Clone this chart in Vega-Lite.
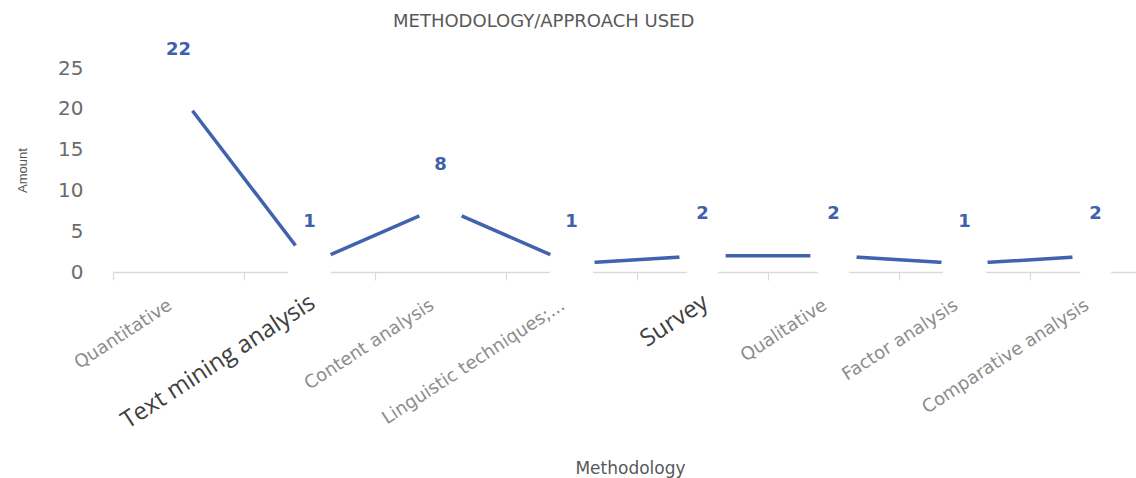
{
  "$schema": "https://vega.github.io/schema/vega-lite/v6.json",
  "autosize": "none",
  "width": 1023,
  "height": 204,
  "padding": {"left": 113, "top": 68, "right": 0, "bottom": 206},
  "background": "white",
  "title": {
    "text": "METHODOLOGY/APPROACH USED",
    "anchor": "start",
    "frame": "group",
    "dx": 280,
    "dy": 18,
    "offset": 10,
    "baseline": "bottom",
    "font": "DejaVu Sans",
    "fontSize": 18,
    "fontWeight": "normal",
    "color": "#595959"
  },
  "data": {
    "values": [
      {"method": "Quantitative", "amount": 22},
      {"method": "Text mining analysis", "amount": 1},
      {"method": "Content analysis", "amount": 8},
      {"method": "Linguistic techniques;...", "amount": 1},
      {"method": "Survey", "amount": 2},
      {"method": "Qualitative", "amount": 2},
      {"method": "Factor analysis", "amount": 1},
      {"method": "Comparative analysis", "amount": 2}
    ]
  },
  "encoding": {
    "x": {
      "field": "method",
      "type": "nominal",
      "sort": null,
      "scale": {"type": "band", "range": [0, 1048], "paddingInner": 0, "paddingOuter": 0},
      "axis": {
        "title": "Methodology",
        "bandPosition": 0,
        "labelAngle": -33,
        "labelLimit": 400,
        "labelPadding": {"condition": {"test": "datum.value == 'Text mining analysis' || datum.value == 'Survey'", "value": 10}, "value": 16},
        "labelOffset": {"condition": {"test": "datum.value == 'Text mining analysis' || datum.value == 'Survey'", "value": -3}, "value": -13},
        "labelFont": {"condition": {"test": "datum.value == 'Text mining analysis' || datum.value == 'Survey'", "value": "Open Sans"}, "value": "DejaVu Sans"},
        "labelFontSize": {"condition": {"test": "datum.value == 'Text mining analysis' || datum.value == 'Survey'", "value": 24}, "value": 18},
        "labelColor": {"condition": {"test": "datum.value == 'Text mining analysis' || datum.value == 'Survey'", "value": "#404040"}, "value": "#8c8c8c"},
        "domainColor": "#d9d9d9",
        "domainWidth": 1.5,
        "tickColor": "#d9d9d9",
        "tickSize": 8,
        "tickWidth": 1.2,
        "titleFont": "DejaVu Sans",
        "titleFontSize": 17,
        "titleFontWeight": "normal",
        "titleColor": "#595959",
        "titleX": 517,
        "titleY": 196,
        "titleBaseline": "middle",
        "titleAlign": "center"
      }
    },
    "y": {
      "field": "amount",
      "type": "quantitative",
      "scale": {"domain": [0, 25]},
      "axis": {
        "title": "Amount",
        "values": [0, 5, 10, 15, 20, 25],
        "grid": false,
        "domain": false,
        "ticks": false,
        "labelPadding": 30,
        "labelFont": "DejaVu Sans",
        "labelFontSize": 20,
        "labelColor": "#6b6b6b",
        "titleFont": "Liberation Sans",
        "titleFontSize": 13,
        "titleFontWeight": "normal",
        "titleColor": "#595959",
        "titleX": -91,
        "titleY": 102,
        "titleAngle": -90,
        "titleAlign": "center",
        "titleBaseline": "middle"
      }
    }
  },
  "layer": [
    {"mark": {"type": "line", "color": "#4163AD", "strokeWidth": 3.5}},
    {"mark": {"type": "circle", "size": 2150, "color": "white", "opacity": 1}},
    {
      "mark": {"type": "text", "dy": -42, "font": "DejaVu Sans", "fontWeight": "bold", "fontSize": 18, "color": "#3F60AA"},
      "encoding": {"text": {"field": "amount", "type": "quantitative"}}
    }
  ],
  "config": {"view": {"stroke": null}}
}
